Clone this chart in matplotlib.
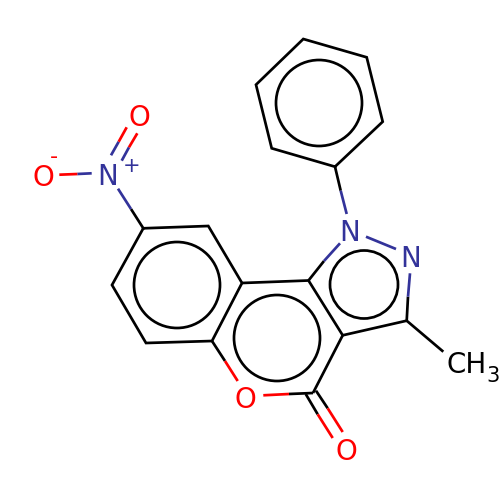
import matplotlib
matplotlib.use("Agg")
import matplotlib.pyplot as plt
from matplotlib.patches import Circle

BLACK = "#000000"
BLUE = "#33339a"
RED = "#ff0000"

# ring outlines (closed or open paths), black
ring_paths = [
    [(131, 209), (143.3, 228.3), (208.3, 226), (242, 283), (212, 341), (146, 343), (112, 285), (143.3, 228.3)],
    [(242, 283), (308.5, 280.5), (342.7, 335.3), (313, 393)],
    [(342.7, 335.3), (406.7, 320.7)],
    [(308.5, 280.5), (324, 261)],
    [(212, 341), (225, 361)],
    [(313, 393), (289, 394)],
    [(408, 296.7), (406.7, 320.7), (443.3, 351.7)],
    [(340.7, 190.7), (335, 166.7), (271.7, 148.3), (256, 84.7), (303.3, 39), (366.7, 57.3), (382.7, 121.7), (335, 166.7)],
    [(305.7, 394), (317.7, 414.3)],
    [(316, 390.7), (327.7, 408.3)],
]
# two-colour bond pieces
blue_bonds = [
    [(118, 188.7), (131, 209)],
    [(91.7, 173.3), (77.3, 174)],
    [(111, 155.3), (118.7, 141.7)],
    [(121.7, 160.7), (129, 147.3)],
    [(340, 243.3), (324, 261)],
    [(366, 236.7), (396, 249)],
    [(410, 273.3), (408, 296.7)],
    [(346.7, 214), (340.7, 190.7)],
]
red_bonds = [
    [(77.3, 174), (59.3, 174.7)],
    [(118.7, 141.7), (126.7, 127.3)],
    [(129, 147.3), (137.3, 133.3)],
    [(225, 361), (237.7, 381)],
    [(289, 394), (263.3, 395.3)],
    [(317.7, 414.3), (332.7, 438)],
    [(327.7, 408.3), (342.7, 432)],
]
# aromatic circles: centre x, centre y, radius
ring_circles = [(177, 285, 43), (277, 338, 43), (364, 284.5, 34), (319, 103, 43)]
# atom labels: text, x, y, colour, size
atom_labels = [
    ("N", 108, 177, BLUE, 20),
    ("+", 132, 166.5, BLUE, 15),
    ("O", 139, 118.5, RED, 20),
    ("O", 43, 178.5, RED, 20),
    ("-", 54, 157, RED, 16),
    ("N", 350, 233, BLUE, 20),
    ("N", 410.5, 259, BLUE, 20),
    ("O", 245, 399.5, RED, 20),
    ("O", 346, 452.5, RED, 20),
]

fig = plt.figure(figsize=(5, 5), dpi=100)
ax = fig.add_axes([0, 0, 1, 1])
ax.set_xlim(0, 500)
ax.set_ylim(500, 0)
ax.axis("off")

for paths, col in ((ring_paths, BLACK), (blue_bonds, BLUE), (red_bonds, RED)):
    for p in paths:
        ax.plot([q[0] for q in p], [q[1] for q in p], color=col, lw=1.95,
                solid_capstyle="butt", solid_joinstyle="miter")
for cx, cy, r in ring_circles:
    ax.add_patch(Circle((cx, cy), r, fill=False, ec=BLACK, lw=1.95))
for t, x, y, c, s in atom_labels:
    ax.text(x, y, t, color=c, fontsize=s, ha="center", va="center")
ax.text(447, 373, "CH", color=BLACK, fontsize=20, ha="left", va="baseline")
ax.text(486, 382, "3", color=BLACK, fontsize=15, ha="left", va="baseline")

fig.savefig("out.png", dpi=100)
